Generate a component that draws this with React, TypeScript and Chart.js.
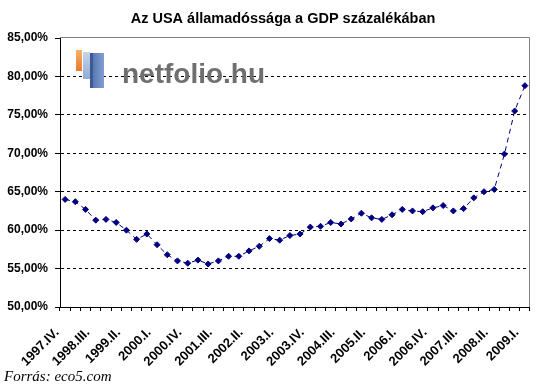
import React, { useEffect, useRef } from "react";
import { Chart, registerables } from "chart.js";

Chart.register(...registerables);

const TITLE = "Az USA államadóssága a GDP százalékában";
const SOURCE = "Forrás: eco5.com";
const LOGO_TEXT = "netfolio.hu";

const quarters = [
  "1997.IV.",
  "1998.I.", "1998.II.", "1998.III.", "1998.IV.",
  "1999.I.", "1999.II.", "1999.III.", "1999.IV.",
  "2000.I.", "2000.II.", "2000.III.", "2000.IV.",
  "2001.I.", "2001.II.", "2001.III.", "2001.IV.",
  "2002.I.", "2002.II.", "2002.III.", "2002.IV.",
  "2003.I.", "2003.II.", "2003.III.", "2003.IV.",
  "2004.I.", "2004.II.", "2004.III.", "2004.IV.",
  "2005.I.", "2005.II.", "2005.III.", "2005.IV.",
  "2006.I.", "2006.II.", "2006.III.", "2006.IV.",
  "2007.I.", "2007.II.", "2007.III.", "2007.IV.",
  "2008.I.", "2008.II.", "2008.III.", "2008.IV.",
  "2009.I.",
];

const debtToGdp = [
  64.0,
  63.7, 62.7, 61.3, 61.4,
  61.0, 60.0, 58.8, 59.5,
  58.1, 56.8, 56.0, 55.7,
  56.1, 55.6, 56.0, 56.6,
  56.6, 57.3, 57.9, 58.9,
  58.7, 59.3, 59.5, 60.4,
  60.5, 61.0, 60.8, 61.45,
  62.2, 61.6, 61.4, 62.0,
  62.7, 62.5, 62.4, 62.9,
  63.2, 62.5, 62.8, 64.2,
  65.0, 65.3, 69.9, 75.5,
  78.8,
];

const yMin = 50;
const yMax = 85;
const yStep = 5;
const labelEvery = 3;

const FONT = "'Liberation Sans', Arial, sans-serif";

const decorPlugin = {
  id: "decor",
  beforeDraw(chart: any) {
    const ctx = chart.ctx;
    ctx.save();
    ctx.fillStyle = "#ffffff";
    ctx.fillRect(0, 0, chart.width, chart.height);
    ctx.restore();
  },
  beforeDatasetsDraw(chart: any) {
    const ctx = chart.ctx;
    const a = chart.chartArea;
    ctx.save();
    // logo icon
    const gx = a.left + 16;
    const gy = a.top + 12;
    let g = ctx.createLinearGradient(gx, gy, gx, gy + 22);
    g.addColorStop(0, "#f7b26a");
    g.addColorStop(1, "#e8782a");
    ctx.fillStyle = g;
    ctx.fillRect(gx, gy, 6, 21);
    g = ctx.createLinearGradient(gx + 7, gy, gx + 7, gy + 30);
    g.addColorStop(0, "#c9d8ee");
    g.addColorStop(1, "#8fa9d3");
    ctx.fillStyle = g;
    ctx.fillRect(gx + 7, gy + 2, 7, 27);
    g = ctx.createLinearGradient(gx + 14, gy, gx + 30, gy);
    g.addColorStop(0, "#4c6fae");
    g.addColorStop(1, "#8aa5d4");
    ctx.fillStyle = g;
    ctx.fillRect(gx + 14, gy + 3, 14, 35);
    ctx.fillStyle = "#3c5a94";
    ctx.fillRect(gx + 14, gy + 3, 3, 35);
    // logo text
    ctx.font = "bold 28px " + FONT;
    ctx.textAlign = "left";
    ctx.textBaseline = "alphabetic";
    ctx.fillStyle = "#6f6f6f";
    ctx.fillText(LOGO_TEXT, a.left + 62, a.top + 45);
    ctx.restore();
  },
  afterDraw(chart: any) {
    const ctx = chart.ctx;
    const a = chart.chartArea;
    ctx.save();
    ctx.strokeStyle = "#808080";
    ctx.lineWidth = 1;
    ctx.beginPath();
    ctx.moveTo(a.left, Math.round(a.top) - 0.5);
    ctx.lineTo(Math.round(a.right) - 0.5, Math.round(a.top) - 0.5);
    ctx.lineTo(Math.round(a.right) - 0.5, a.bottom);
    ctx.stroke();

    ctx.fillStyle = "#000";
    ctx.font = "bold 14.5px " + FONT;
    ctx.textAlign = "center";
    ctx.textBaseline = "middle";
    ctx.fillText(TITLE, 283, 19);

    ctx.font = "italic 15px 'Liberation Serif', 'DejaVu Serif', serif";
    ctx.textAlign = "left";
    ctx.textBaseline = "alphabetic";
    ctx.fillText(SOURCE, 4, 381);
    ctx.restore();
  },
};

export default function App() {
  const ref = useRef<HTMLCanvasElement | null>(null);

  useEffect(() => {
    document.body.style.margin = "0";
    if (!ref.current) return;
    const chart = new Chart(ref.current, {
      type: "line",
      data: {
        labels: quarters,
        datasets: [
          {
            data: debtToGdp,
            borderColor: "#000080",
            borderWidth: 1,
            borderDash: [5, 4],
            backgroundColor: "#000080",
            pointStyle: "rectRot",
            pointRadius: 3,
            pointBorderWidth: 1,
            pointBorderColor: "#000080",
            pointBackgroundColor: "#000080",
            tension: 0,
            fill: false,
          },
        ],
      },
      options: {
        responsive: false,
        animation: false,
        devicePixelRatio: 1,
        layout: { padding: { top: 38, right: 8, left: 0, bottom: 0 } },
        plugins: {
          legend: { display: false },
          title: { display: false },
          tooltip: { enabled: false },
        },
        scales: {
          x: {
            type: "category",
            offset: true,
            grid: {
              display: true,
              offset: true,
              drawOnChartArea: false,
              drawTicks: true,
              tickLength: 4,
              tickColor: "#000",
              tickWidth: 1,
            },
            border: { display: true, color: "#000", width: 1 },
            ticks: {
              autoSkip: false,
              minRotation: 45,
              maxRotation: 45,
              labelOffset: -8,
              padding: 14,
              color: "#000",
              font: { family: FONT, size: 13, weight: "bold" },
              callback: (_v: any, i: number) => (i % labelEvery === 0 ? quarters[i] : ""),
            },
            afterFit: (s: any) => {
              s.height = 80;
            },
          },
          y: {
            min: yMin,
            max: yMax,
            grid: {
              color: (c: any) =>
                c.tick && (c.tick.value === yMin || c.tick.value === yMax) ? "rgba(0,0,0,0)" : "#000",
              lineWidth: 1,
              drawTicks: true,
              tickLength: 5,
              tickColor: "#000",
              tickWidth: 1,
              tickBorderDash: [],
            },
            border: { display: true, color: "#000", width: 1, dash: [3, 3] },
            ticks: {
              stepSize: yStep,
              padding: 7,
              color: "#000",
              font: { family: FONT, size: 12, weight: "bold" },
              callback: (v: any) => Number(v).toFixed(2).replace(".", ",") + "%",
            },
            afterFit: (s: any) => {
              s.width = 60;
            },
          },
        },
      },
      plugins: [decorPlugin],
    });
    return () => chart.destroy();
  }, []);

  return (
    <div style={{ width: 550, height: 387, position: "relative" }}>
      <canvas ref={ref} width={550} height={387} />
    </div>
  );
}
